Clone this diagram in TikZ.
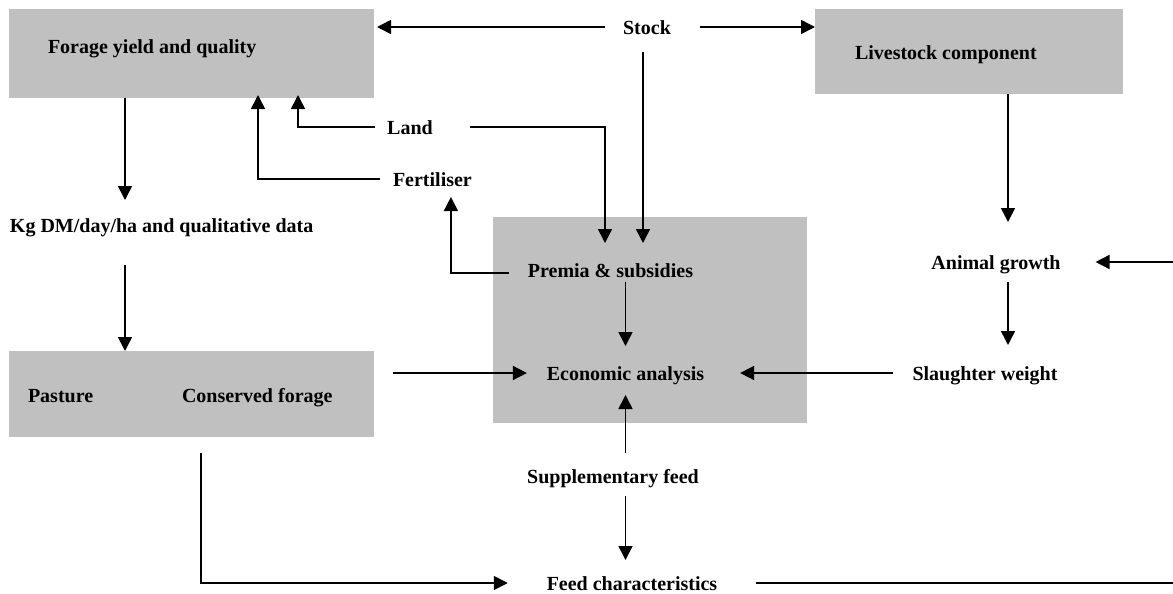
\documentclass[tikz,border=0pt]{standalone}
\usepackage{fontspec}
\setmainfont{Liberation Serif}
\usepackage{tikz}
\usetikzlibrary{arrows.meta,calc}
\definecolor{boxgrey}{RGB}{192,192,192}

\begin{document}
\begin{tikzpicture}[x=0.5pt,y=-0.5pt,
    lbl/.style={font=\fontsize{10}{12}\selectfont\bfseries,inner sep=0pt,outer sep=0pt,text height=8pt,text depth=1pt},
    panel/.style={fill=boxgrey,inner sep=0pt,outer sep=0pt},
    arr/.style={line width=0.8pt,-{Triangle[length=7pt,width=7pt]}},
    ln/.style={line width=0.8pt}]
                \useasboundingbox (0,0) rectangle (1173,594);
                % Grey panels
                \node[panel,minimum width=182.5pt,minimum height=44.5pt] (forageBox) at (191.5,53.5) {};
                \node[panel,minimum width=154pt,minimum height=42.5pt] (livestockBox) at (969,51.5) {};
                \node[panel,minimum width=157pt,minimum height=103pt] (econBox) at (650,320) {};
                \node[panel,minimum width=182.5pt,minimum height=43pt] (pastureBox) at (191.5,394) {};
                % Labels
                \node[lbl,anchor=west] (forage) at (48,47) {Forage yield and quality};
                \node[lbl] (stock) at (647,27) {Stock};
                \node[lbl,anchor=west] (livestock) at (855,52) {Livestock component};
                \node[lbl] (land) at (410,127) {Land};
                \node[lbl,anchor=west] (fert) at (393,179) {Fertiliser};
                \node[lbl,anchor=west] (kgdm) at (10,225) {Kg DM/day/ha and qualitative data};
                \node[lbl] (premia) at (610.5,270) {Premia \& subsidies};
                \node[lbl] (econ) at (625.5,373) {Economic analysis};
                \node[lbl] (animal) at (996,262) {Animal growth};
                \node[lbl] (slaughter) at (985,373) {Slaughter weight};
                \node[lbl,anchor=west] (pasture) at (28,395) {Pasture};
                \node[lbl,anchor=west] (conserved) at (182,395) {Conserved forage};
                \node[lbl] (supp) at (613,476) {Supplementary feed};
                \node[lbl] (feedc) at (632,583) {Feed characteristics};
                \coordinate (edgeA) at (1173,262);
                \coordinate (edgeB) at (1173,583);
                % Stock links
                \draw[arr,shorten <=9pt,shorten >=1.5pt](stock.west)--(forageBox.east |- stock.west);
                \draw[arr,shorten <=14.5pt](stock.east)--(livestockBox.west |- stock.east);
                \draw[arr,shorten <=8pt,shorten >=9pt]([xshift=-2pt]stock.south)--([xshift=-2pt]stock.south |- premia.north);
                % Land and fertiliser
                \draw[arr,shorten <=18.5pt,shorten >=9pt](land.east)-|([xshift=-2.75pt]premia.north);
                \draw[arr,shorten <=6pt,shorten >=-1.5pt](land.west)-|([xshift=53.25pt]forageBox.south);
                \draw[arr,shorten <=6.5pt,shorten >=-1.5pt](fert.west)-|([xshift=33.25pt]forageBox.south);
                \draw[arr,shorten <=9.5pt,shorten >=4.5pt]([yshift=-1.5pt]premia.west)-|([xshift=9.25pt]fert.south);
                % Forage side
                \draw[arr,shorten >=8pt]([xshift=-33.25pt]forageBox.south)--([xshift=-33.25pt]forageBox.south |- kgdm.north);
                \draw[arr,shorten <=15.5pt]([xshift=-33.25pt]pastureBox.north |- kgdm.south)--([xshift=-33.25pt]pastureBox.north);
                \draw[arr,shorten <=9.5pt,shorten >=10pt](pastureBox.east |- econ.west)--(econ.west);
                \draw[arr,shorten <=8pt,shorten >=19.5pt]([xshift=4.75pt]pastureBox.south)|-(feedc.west);
                % Economic analysis
                \draw[arr,shorten <=1.5pt,shorten >=9pt](econ.north |- premia.south)--(econ.north);
                \draw[arr,shorten <=9.75pt,shorten >=18pt](slaughter.west)--(econ.east);
                \draw[arr,shorten <=7pt,shorten >=6.5pt](econ.south |- supp.north)--(econ.south);
                \draw[arr,shorten <=5.5pt,shorten >=7pt](econ.south |- supp.south)--(econ.south |- feedc.north);
                % Livestock side
                \draw[arr,shorten >=15.5pt]([xshift=19.5pt]livestockBox.south)--([xshift=19.5pt]livestockBox.south |- animal.north);
                \draw[arr,shorten <=5.5pt,shorten >=9.5pt]([xshift=6pt]animal.south)--([xshift=6pt]animal.south |- slaughter.north);
                \draw[ln,shorten <=19.5pt](feedc.east)--(edgeB);
                \draw[arr,shorten >=17.5pt](edgeA)--(animal.east);
\end{tikzpicture}
\end{document}
